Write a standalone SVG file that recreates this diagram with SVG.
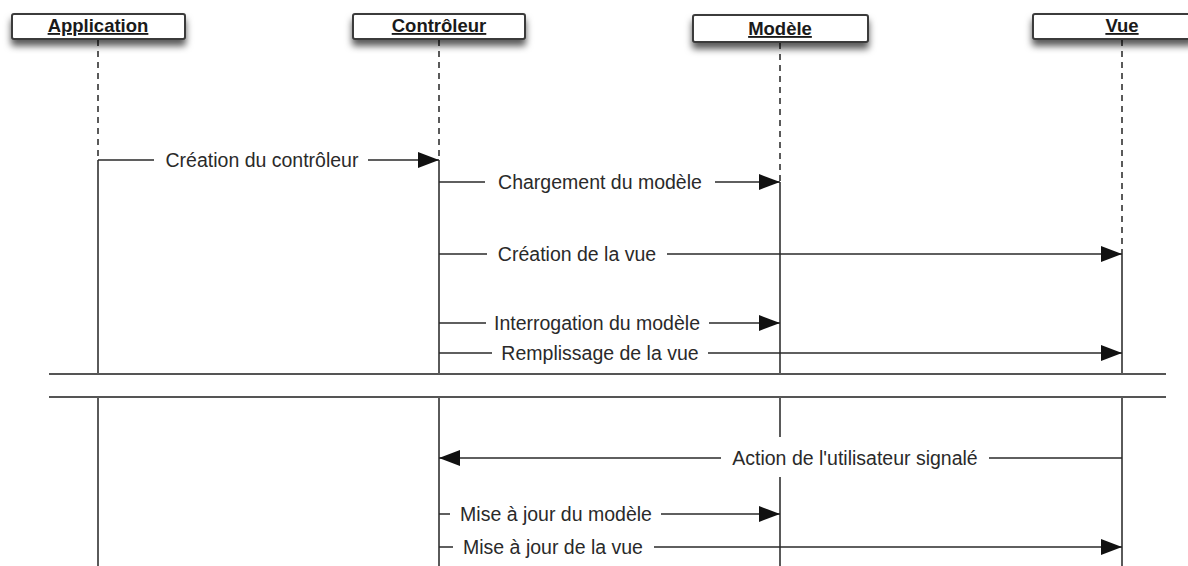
<svg xmlns="http://www.w3.org/2000/svg" width="1188" height="566" viewBox="0 0 1188 566">
<style>
.hdr{fill:#fff;stroke:#3a3a3a;stroke-width:2}
.htxt{font-family:"Liberation Sans",Arial,sans-serif;font-weight:bold;font-size:18.5px;fill:#1a1a1a;text-anchor:middle;text-decoration:underline}
.life{stroke:#5a5a5a;stroke-width:2;fill:none}
.dash{stroke-dasharray:6 5}
.sep{stroke:#555;stroke-width:2}
.msg{stroke:#2a2a2a;stroke-width:1.6;fill:none}
.mtxt{font-family:"Liberation Sans",Arial,sans-serif;font-size:19.5px;fill:#2a2a2a;text-anchor:middle}
.bg{fill:#fff}
</style>
<defs>
<filter id="sh" x="-10%" y="-40%" width="120%" height="200%">
<feDropShadow dx="0" dy="6" stdDeviation="3.5" flood-color="#000" flood-opacity="0.65"/>
</filter>
<marker id="ah" markerUnits="userSpaceOnUse" markerWidth="24" markerHeight="18" refX="21" refY="8" orient="auto">
<path d="M0,0 L21,8 L0,16 Z" fill="#111"/>
</marker>
</defs>
<rect width="1188" height="566" fill="#fff"/>

<g id="separators">
<line class="sep" x1="49" y1="374" x2="1166" y2="374"/>
<line class="sep" x1="49" y1="397" x2="1166" y2="397"/>
</g>

<g id="lifelines">
<line class="life dash" x1="98" y1="40" x2="98" y2="160"/>
<line class="life" x1="98" y1="160" x2="98" y2="374"/>
<line class="life" x1="98" y1="397" x2="98" y2="566"/>
<line class="life dash" x1="439" y1="40" x2="439" y2="160"/>
<line class="life" x1="439" y1="160" x2="439" y2="374"/>
<line class="life" x1="439" y1="397" x2="439" y2="566"/>
<line class="life dash" x1="780" y1="43" x2="780" y2="182"/>
<line class="life" x1="780" y1="182" x2="780" y2="374"/>
<line class="life" x1="780" y1="397" x2="780" y2="566"/>
<line class="life dash" x1="1122" y1="40" x2="1122" y2="254"/>
<line class="life" x1="1122" y1="254" x2="1122" y2="374"/>
<line class="life" x1="1122" y1="397" x2="1122" y2="566"/>
</g>

<g id="Application">
<rect class="hdr" x="12" y="14" width="173" height="25" rx="2" filter="url(#sh)"/>
<text class="htxt" x="98" y="32">Application</text>
</g>
<g id="Controleur">
<rect class="hdr" x="353" y="14" width="172" height="25" rx="2" filter="url(#sh)"/>
<text class="htxt" x="439" y="32">Contrôleur</text>
</g>
<g id="Modele">
<rect class="hdr" x="693" y="15" width="175" height="27" rx="2" filter="url(#sh)"/>
<text class="htxt" x="780" y="35">Modèle</text>
</g>
<g id="Vue">
<rect class="hdr" x="1033" y="14" width="160" height="25" rx="2" filter="url(#sh)"/>
<text class="htxt" x="1122" y="32">Vue</text>
</g>

<g id="connectors">
<line class="msg" x1="98" y1="160" x2="439" y2="160" marker-end="url(#ah)"/>
<rect class="bg" x="154" y="148" width="214" height="24"/>
<text class="mtxt" x="262" y="167">Création du contrôleur</text>

<line class="msg" x1="439" y1="182" x2="780" y2="182" marker-end="url(#ah)"/>
<rect class="bg" x="485" y="170" width="230" height="24"/>
<text class="mtxt" x="600" y="189">Chargement du modèle</text>

<line class="msg" x1="439" y1="254" x2="1122" y2="254" marker-end="url(#ah)"/>
<rect class="bg" x="487" y="242" width="180" height="24"/>
<text class="mtxt" x="577" y="261">Création de la vue</text>

<line class="msg" x1="439" y1="323" x2="780" y2="323" marker-end="url(#ah)"/>
<rect class="bg" x="486" y="311" width="223" height="24"/>
<text class="mtxt" x="597" y="330">Interrogation du modèle</text>

<line class="msg" x1="439" y1="353" x2="1122" y2="353" marker-end="url(#ah)"/>
<rect class="bg" x="492" y="341" width="216" height="24"/>
<text class="mtxt" x="600" y="360">Remplissage de la vue</text>

<line class="msg" x1="1122" y1="458" x2="439" y2="458" marker-end="url(#ah)"/>
<rect class="bg" x="721" y="437" width="268" height="40"/>
<text class="mtxt" x="855" y="465">Action de l'utilisateur signalé</text>

<line class="msg" x1="439" y1="514" x2="780" y2="514" marker-end="url(#ah)"/>
<rect class="bg" x="450" y="502" width="211" height="24"/>
<text class="mtxt" x="556" y="521">Mise à jour du modèle</text>

<line class="msg" x1="439" y1="547" x2="1122" y2="547" marker-end="url(#ah)"/>
<rect class="bg" x="453" y="535" width="201" height="24"/>
<text class="mtxt" x="553" y="554">Mise à jour de la vue</text>
</g>
</svg>
